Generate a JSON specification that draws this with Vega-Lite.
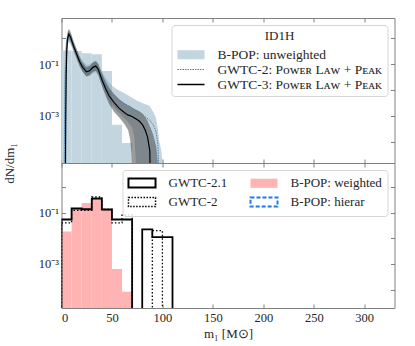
{
  "$schema": "https://vega.github.io/schema/vega-lite/v6.json",
  "background": "white",
  "padding": {"left": 2.5, "top": 17, "right": 5, "bottom": 5},
  "spacing": 0,
  "bounds": "flush",
  "config": {
    "view": {"stroke": "#808080", "strokeWidth": 1},
    "font": "Liberation Serif",
    "axis": {"domain": false, "grid": false, "tickColor": "#808080", "tickSize": -4, "labelPadding": 7, "labelFont": "Liberation Serif", "labelFontSize": 12.5, "labelColor": "#262626", "titleFont": "Liberation Serif", "titleFontSize": 13, "titleFontWeight": "normal", "titleColor": "#262626"},
    "legend": {"labelFont": "Liberation Serif", "labelFontSize": 13, "labelLimit": 400, "labelColor": "#262626", "titleFont": "Liberation Serif", "titleFontSize": 13, "titleFontWeight": "normal", "titleColor": "#262626", "fillColor": "rgba(255,255,255,0.85)", "strokeColor": "#d6d6d6", "cornerRadius": 3, "padding": 5, "rowPadding": 0.5, "symbolSize": 169, "symbolOffset": 7, "labelOffset": 19, "symbolType": "M-2.08,-0.7H2.08V0.7H-2.08Z", "offset": 7}
  },
  "datasets": {
    "hist_top": [
      {"m0": 0, "m1": 10, "val": 0.339},
      {"m0": 10, "m1": 20, "val": 0.33},
      {"m0": 20, "m1": 30, "val": 0.269},
      {"m0": 30, "m1": 40, "val": 0.245},
      {"m0": 40, "m1": 50, "val": 0.055},
      {"m0": 50, "m1": 60, "val": 0.00045},
      {"m0": 60, "m1": 70, "val": 0.000089}
    ],
    "g3": [
      {"m": 3.5, "med": 1e-6, "lo": 1e-6, "hi": 1e-6},
      {"m": 3.8, "med": 1e-6, "lo": 1e-6, "hi": 3.16e-5},
      {"m": 4.2, "med": 6.31e-4, "lo": 1e-6, "hi": 0.0316},
      {"m": 4.6, "med": 0.0316, "lo": 0.001, "hi": 0.251},
      {"m": 5.2, "med": 0.316, "lo": 0.1, "hi": 0.794},
      {"m": 6.0, "med": 1.0, "lo": 0.562, "hi": 1.778},
      {"m": 7.3, "med": 1.479, "lo": 0.933, "hi": 2.399},
      {"m": 9, "med": 1.122, "lo": 0.708, "hi": 1.778},
      {"m": 12, "med": 0.501, "lo": 0.331, "hi": 0.759},
      {"m": 15, "med": 0.251, "lo": 0.166, "hi": 0.38},
      {"m": 18, "med": 0.126, "lo": 0.0832, "hi": 0.191},
      {"m": 20.7, "med": 0.0794, "lo": 0.0525, "hi": 0.117},
      {"m": 24.7, "med": 0.0513, "lo": 0.0339, "hi": 0.0759},
      {"m": 28, "med": 0.0562, "lo": 0.038, "hi": 0.0851},
      {"m": 31, "med": 0.0759, "lo": 0.0501, "hi": 0.115},
      {"m": 34, "med": 0.0851, "lo": 0.0562, "hi": 0.132},
      {"m": 36.5, "med": 0.0631, "lo": 0.0398, "hi": 0.1},
      {"m": 38, "med": 0.0417, "lo": 0.0251, "hi": 0.0692},
      {"m": 40.6, "med": 0.0224, "lo": 0.0126, "hi": 0.0398},
      {"m": 44, "med": 0.0107, "lo": 0.00562, "hi": 0.02},
      {"m": 47.3, "med": 0.00589, "lo": 0.00282, "hi": 0.0117},
      {"m": 52.2, "med": 0.00324, "lo": 0.00141, "hi": 0.00708},
      {"m": 57, "med": 0.002, "lo": 0.000891, "hi": 0.00447},
      {"m": 62.2, "med": 0.00135, "lo": 0.000501, "hi": 0.00316},
      {"m": 66, "med": 0.00107, "lo": 0.000282, "hi": 0.00251},
      {"m": 68, "med": 0.00102, "lo": 0.000126, "hi": 0.0024},
      {"m": 69.5, "med": 0.000955, "lo": 3.16e-5, "hi": 0.00214},
      {"m": 70.5, "med": 0.000933, "lo": 1e-6, "hi": 0.00209},
      {"m": 72, "med": 0.000851, "lo": 1e-6, "hi": 0.00191},
      {"m": 77, "med": 0.000631, "lo": 1e-6, "hi": 0.00151},
      {"m": 80.4, "med": 0.000447, "lo": 1e-6, "hi": 0.0012},
      {"m": 83, "med": 0.000282, "lo": 1e-6, "hi": 0.000891},
      {"m": 85.4, "med": 0.000145, "lo": 1e-6, "hi": 0.000631},
      {"m": 87.5, "med": 4.47e-5, "lo": 1e-6, "hi": 0.000398},
      {"m": 88.2, "med": 1e-6, "lo": 1e-6, "hi": 0.000355},
      {"m": 91, "med": 1e-6, "lo": 1e-6, "hi": 0.000178},
      {"m": 94, "med": 1e-6, "lo": 1e-6, "hi": 6.31e-5},
      {"m": 96, "med": 1e-6, "lo": 1e-6, "hi": 1e-5},
      {"m": 97, "med": 1e-6, "lo": 1e-6, "hi": 1e-6}
    ],
    "g2": [
      {"m": 2.0, "med": 1e-6, "lo": 1e-6, "hi": 1e-6},
      {"m": 2.5, "med": 1e-6, "lo": 1e-6, "hi": 0.001},
      {"m": 3.0, "med": 3.16e-4, "lo": 1e-6, "hi": 0.1},
      {"m": 3.6, "med": 0.0316, "lo": 3.16e-4, "hi": 0.398},
      {"m": 4.5, "med": 0.316, "lo": 0.0631, "hi": 0.891},
      {"m": 5.5, "med": 0.794, "lo": 0.398, "hi": 1.514},
      {"m": 7.0, "med": 1.202, "lo": 0.708, "hi": 1.995},
      {"m": 9, "med": 1.0, "lo": 0.603, "hi": 1.585},
      {"m": 12, "med": 0.479, "lo": 0.302, "hi": 0.759},
      {"m": 15, "med": 0.251, "lo": 0.158, "hi": 0.398},
      {"m": 18, "med": 0.132, "lo": 0.0832, "hi": 0.209},
      {"m": 21, "med": 0.0832, "lo": 0.0501, "hi": 0.135},
      {"m": 25, "med": 0.0562, "lo": 0.0339, "hi": 0.0933},
      {"m": 28, "med": 0.0603, "lo": 0.0355, "hi": 0.1},
      {"m": 31, "med": 0.0759, "lo": 0.0447, "hi": 0.126},
      {"m": 34, "med": 0.0832, "lo": 0.0479, "hi": 0.141},
      {"m": 36.5, "med": 0.0631, "lo": 0.0355, "hi": 0.107},
      {"m": 38.5, "med": 0.0417, "lo": 0.0224, "hi": 0.0741},
      {"m": 41, "med": 0.0251, "lo": 0.0126, "hi": 0.0447},
      {"m": 44, "med": 0.0141, "lo": 0.00708, "hi": 0.0282},
      {"m": 47, "med": 0.00891, "lo": 0.00398, "hi": 0.0191},
      {"m": 50.5, "med": 0.00631, "lo": 0.00251, "hi": 0.0145},
      {"m": 55, "med": 0.00447, "lo": 0.00158, "hi": 0.0107},
      {"m": 60, "med": 0.00331, "lo": 0.001, "hi": 0.00851},
      {"m": 65, "med": 0.00263, "lo": 0.000631, "hi": 0.00661},
      {"m": 70, "med": 0.002, "lo": 0.000355, "hi": 0.00501},
      {"m": 72, "med": 0.00178, "lo": 0.000158, "hi": 0.00447},
      {"m": 73.5, "med": 0.00162, "lo": 2.51e-5, "hi": 0.00417},
      {"m": 74.5, "med": 0.00155, "lo": 1e-6, "hi": 0.00398},
      {"m": 80, "med": 0.00112, "lo": 1e-6, "hi": 0.00316},
      {"m": 87, "med": 0.000708, "lo": 1e-6, "hi": 0.00245},
      {"m": 91, "med": 0.000447, "lo": 1e-6, "hi": 0.00141},
      {"m": 93.7, "med": 0.000251, "lo": 1e-6, "hi": 0.000851},
      {"m": 95.5, "med": 7.94e-5, "lo": 1e-6, "hi": 0.000316},
      {"m": 96.5, "med": 1e-5, "lo": 1e-6, "hi": 0.000141},
      {"m": 97, "med": 1e-6, "lo": 1e-6, "hi": 0.0001},
      {"m": 98.7, "med": 1e-6, "lo": 1e-6, "hi": 5.01e-5},
      {"m": 100.3, "med": 1e-6, "lo": 1e-6, "hi": 1.58e-5},
      {"m": 101, "med": 1e-6, "lo": 1e-6, "hi": 1e-6}
    ],
    "pink": [
      {"m0": 0, "m1": 10, "val": 0.0186},
      {"m0": 10, "m1": 20, "val": 0.141},
      {"m0": 20, "m1": 30, "val": 0.245},
      {"m0": 30, "m1": 40, "val": 0.417},
      {"m0": 40, "m1": 50, "val": 0.135},
      {"m0": 50, "m1": 60, "val": 0.00063},
      {"m0": 60, "m1": 70, "val": 0.000083}
    ],
    "solid": [
      {"i": 0, "m": 0, "v": 1e-7},
      {"i": 1, "m": 0, "v": 0.055},
      {"i": 2, "m": 10, "v": 0.148},
      {"i": 3, "m": 20, "v": 0.138},
      {"i": 4, "m": 30, "v": 0.363},
      {"i": 5, "m": 40, "v": 0.135},
      {"i": 6, "m": 50, "v": 0.055},
      {"i": 7, "m": 60, "v": 0.055},
      {"i": 8, "m": 70, "v": 1e-7},
      {"i": 9, "m": 80, "v": 0.0224},
      {"i": 10, "m": 90, "v": 0.0112},
      {"i": 11, "m": 110, "v": 1e-7}
    ],
    "dotted": [
      {"i": 0, "m": 0, "v": 1e-7},
      {"i": 1, "m": 0, "v": 0.0407},
      {"i": 2, "m": 10, "v": 0.126},
      {"i": 3, "m": 20, "v": 0.126},
      {"i": 4, "m": 30, "v": 0.417},
      {"i": 5, "m": 40, "v": 0.135},
      {"i": 6, "m": 50, "v": 0.0407},
      {"i": 7, "m": 60, "v": 0.0832},
      {"i": 8, "m": 70, "v": 1e-7},
      {"i": 9, "m": 90, "v": 0.02},
      {"i": 10, "m": 100, "v": 1e-7}
    ]
  },
  "vconcat": [
    {
      "width": 333,
      "height": 145,
      "layer": [
        {
          "data": {"name": "hist_top"},
          "mark": {"type": "rect", "clip": true, "color": "#c3d6df"},
          "encoding": {
            "x": {"field": "m0", "type": "quantitative", "scale": {"domain": [0, 330], "nice": false}, "axis": {"orient": "bottom", "values": [0, 50, 100, 150, 200, 250, 300], "labels": false, "title": null}},
            "x2": {"field": "m1"},
            "y": {"field": "val", "type": "quantitative", "scale": {"type": "log", "domain": [1.5e-5, 6.2], "nice": false}, "axis": {"orient": "left", "values": [1, 0.1, 0.01, 0.001, 0.0001, 0.00001], "labelExpr": "abs(datum.value - 0.1) < 1e-9 ? '10⁻¹' : (abs(datum.value - 0.001) < 1e-12 ? '10⁻³' : '')", "title": "dN/dm₁", "titleY": 145, "titleX": -45}},
            "y2": {"datum": 1e-7}
          }
        },
        {
          "data": {"name": "g2"},
          "mark": {"type": "area", "clip": true, "color": "#7a9fb5", "opacity": 0.45},
          "encoding": {
            "x": {"field": "m", "type": "quantitative", "axis": {"orient": "top", "values": [0, 50, 100, 150, 200, 250, 300], "labels": false, "title": null}},
            "y": {"field": "hi", "type": "quantitative", "axis": {"orient": "right", "values": [1, 0.1, 0.01, 0.001, 0.0001, 0.00001], "labels": false, "title": null}},
            "y2": {"field": "lo"}
          }
        },
        {
          "data": {"name": "g3"},
          "mark": {"type": "area", "clip": true, "color": "#3a3a3a", "opacity": 0.5},
          "encoding": {
            "x": {"field": "m", "type": "quantitative", "axis": null},
            "y": {"field": "hi", "type": "quantitative", "axis": null},
            "y2": {"field": "lo"}
          }
        },
        {
          "data": {"name": "g2"},
          "mark": {"type": "line", "clip": true, "strokeWidth": 1, "strokeDash": [1.5, 1], "color": "#4682b4"},
          "encoding": {
            "x": {"field": "m", "type": "quantitative", "axis": null},
            "y": {"field": "med", "type": "quantitative", "axis": null}
          }
        },
        {
          "data": {"name": "g3"},
          "mark": {"type": "line", "clip": true, "strokeWidth": 1.2, "color": "#000000"},
          "encoding": {
            "x": {"field": "m", "type": "quantitative", "axis": null},
            "y": {"field": "med", "type": "quantitative", "axis": null}
          }
        },
        {
          "data": {"values": []},
          "mark": {"type": "point", "opacity": 1},
          "encoding": {
            "fill": {"field": "series", "type": "nominal", "scale": {"domain": ["B-POP: unweighted", "GWTC-2: Pᴏᴡᴇʀ Lᴀᴡ + Pᴇᴀᴋ", "GWTC-3: Pᴏᴡᴇʀ Lᴀᴡ + Pᴇᴀᴋ"], "range": ["#c3d6df", "transparent", "transparent"]}, "legend": {"title": "ID1H", "orient": "top-right", "titleAnchor": "middle", "titleAlign": "center", "titlePadding": 5, "direction": "vertical", "labelFontSize": 13.5}},
            "stroke": {"field": "series", "type": "nominal", "scale": {"domain": ["B-POP: unweighted", "GWTC-2: Pᴏᴡᴇʀ Lᴀᴡ + Pᴇᴀᴋ", "GWTC-3: Pᴏᴡᴇʀ Lᴀᴡ + Pᴇᴀᴋ"], "range": ["transparent", "#4682b4", "#000000"]}, "legend": {"title": "ID1H", "orient": "top-right", "titleAnchor": "middle", "titleAlign": "center", "titlePadding": 5, "direction": "vertical", "labelFontSize": 13.5}},
            "shape": {"field": "series", "type": "nominal", "scale": {"domain": ["B-POP: unweighted", "GWTC-2: Pᴏᴡᴇʀ Lᴀᴡ + Pᴇᴀᴋ", "GWTC-3: Pᴏᴡᴇʀ Lᴀᴡ + Pᴇᴀᴋ"], "range": ["M-2.08,-0.7H2.08V0.7H-2.08Z", "M-2.08,0H2.08", "M-2.08,0H2.08"]}, "legend": {"title": "ID1H", "orient": "top-right", "titleAnchor": "middle", "titleAlign": "center", "titlePadding": 5, "direction": "vertical", "labelFontSize": 13.5}},
            "strokeDash": {"field": "series", "type": "nominal", "scale": {"domain": ["B-POP: unweighted", "GWTC-2: Pᴏᴡᴇʀ Lᴀᴡ + Pᴇᴀᴋ", "GWTC-3: Pᴏᴡᴇʀ Lᴀᴡ + Pᴇᴀᴋ"], "range": [[1, 0], [1.5, 1], [1, 0]]}, "legend": {"title": "ID1H", "orient": "top-right", "titleAnchor": "middle", "titleAlign": "center", "titlePadding": 5, "direction": "vertical", "labelFontSize": 13.5}},
            "strokeWidth": {"field": "series", "type": "nominal", "scale": {"type": "ordinal", "domain": ["B-POP: unweighted", "GWTC-2: Pᴏᴡᴇʀ Lᴀᴡ + Pᴇᴀᴋ", "GWTC-3: Pᴏᴡᴇʀ Lᴀᴡ + Pᴇᴀᴋ"], "range": [0, 1, 1.3]}, "legend": {"title": "ID1H", "orient": "top-right", "titleAnchor": "middle", "titleAlign": "center", "titlePadding": 5, "direction": "vertical", "labelFontSize": 13.5}}
          }
        }
      ],
      "resolve": {"axis": {"x": "independent", "y": "independent"}}
    },
    {
      "width": 333,
      "height": 145,
      "layer": [
        {
          "data": {"name": "pink"},
          "mark": {"type": "rect", "clip": true, "color": "#ffb3b3"},
          "encoding": {
            "x": {"field": "m0", "type": "quantitative", "scale": {"domain": [0, 330], "nice": false}, "axis": {"orient": "bottom", "values": [0, 50, 100, 150, 200, 250, 300], "title": "m₁ [M⊙]", "titlePadding": 4}},
            "x2": {"field": "m1"},
            "y": {"field": "val", "type": "quantitative", "scale": {"type": "log", "domain": [1.9e-5, 8.9], "nice": false}, "axis": {"orient": "left", "values": [1, 0.1, 0.01, 0.001, 0.0001, 0.00001], "labelExpr": "abs(datum.value - 0.1) < 1e-9 ? '10⁻¹' : (abs(datum.value - 0.001) < 1e-12 ? '10⁻³' : '')", "title": null}},
            "y2": {"datum": 1e-7}
          }
        },
        {
          "data": {"name": "dotted"},
          "mark": {"type": "line", "clip": true, "interpolate": "step-after", "strokeWidth": 1.3, "strokeDash": [1.5, 2], "color": "#000000"},
          "encoding": {
            "x": {"field": "m", "type": "quantitative", "axis": {"orient": "top", "values": [0, 50, 100, 150, 200, 250, 300], "labels": false, "title": null}},
            "y": {"field": "v", "type": "quantitative", "axis": {"orient": "right", "values": [1, 0.1, 0.01, 0.001, 0.0001, 0.00001], "labels": false, "title": null}},
            "order": {"field": "i", "type": "quantitative"}
          }
        },
        {
          "data": {"name": "solid"},
          "mark": {"type": "line", "clip": true, "interpolate": "step-after", "strokeWidth": 1.8, "color": "#000000"},
          "encoding": {
            "x": {"field": "m", "type": "quantitative", "axis": null},
            "y": {"field": "v", "type": "quantitative", "axis": null},
            "order": {"field": "i", "type": "quantitative"}
          }
        },
        {
          "data": {"values": []},
          "mark": {"type": "point", "opacity": 1},
          "encoding": {
            "fill": {"field": "series", "type": "nominal", "scale": {"domain": ["GWTC-2.1", "GWTC-2", "B-POP: weighted", "B-POP: hierar"], "range": ["transparent", "transparent", "#ffb3b3", "transparent"]}, "legend": {"title": null, "orient": "top-right", "columns": 2, "direction": "vertical", "columnPadding": 18}},
            "stroke": {"field": "series", "type": "nominal", "scale": {"domain": ["GWTC-2.1", "GWTC-2", "B-POP: weighted", "B-POP: hierar"], "range": ["#000000", "#000000", "transparent", "#1e7ae6"]}, "legend": {"title": null, "orient": "top-right", "columns": 2, "direction": "vertical", "columnPadding": 18}},
            "shape": {"field": "series", "type": "nominal", "scale": {"domain": ["GWTC-2.1", "GWTC-2", "B-POP: weighted", "B-POP: hierar"], "range": ["M-2.08,-0.7H2.08V0.7H-2.08Z", "M-2.08,-0.7H2.08V0.7H-2.08Z", "M-2.08,-0.7H2.08V0.7H-2.08Z", "M-2.08,-0.7H2.08V0.7H-2.08Z"]}, "legend": {"title": null, "orient": "top-right", "columns": 2, "direction": "vertical", "columnPadding": 18}},
            "strokeDash": {"field": "series", "type": "nominal", "scale": {"domain": ["GWTC-2.1", "GWTC-2", "B-POP: weighted", "B-POP: hierar"], "range": [[1, 0], [1.5, 1.5], [1, 0], [4, 2]]}, "legend": {"title": null, "orient": "top-right", "columns": 2, "direction": "vertical", "columnPadding": 18}},
            "strokeWidth": {"field": "series", "type": "nominal", "scale": {"type": "ordinal", "domain": ["GWTC-2.1", "GWTC-2", "B-POP: weighted", "B-POP: hierar"], "range": [2, 1.5, 0, 2]}, "legend": {"title": null, "orient": "top-right", "columns": 2, "direction": "vertical", "columnPadding": 18}}
          }
        }
      ],
      "resolve": {"axis": {"x": "independent", "y": "independent"}}
    }
  ],
  "resolve": {
    "scale": {"fill": "independent", "stroke": "independent", "shape": "independent", "strokeDash": "independent", "strokeWidth": "independent"},
    "legend": {"fill": "independent", "stroke": "independent", "shape": "independent", "strokeDash": "independent", "strokeWidth": "independent"}
  }
}
